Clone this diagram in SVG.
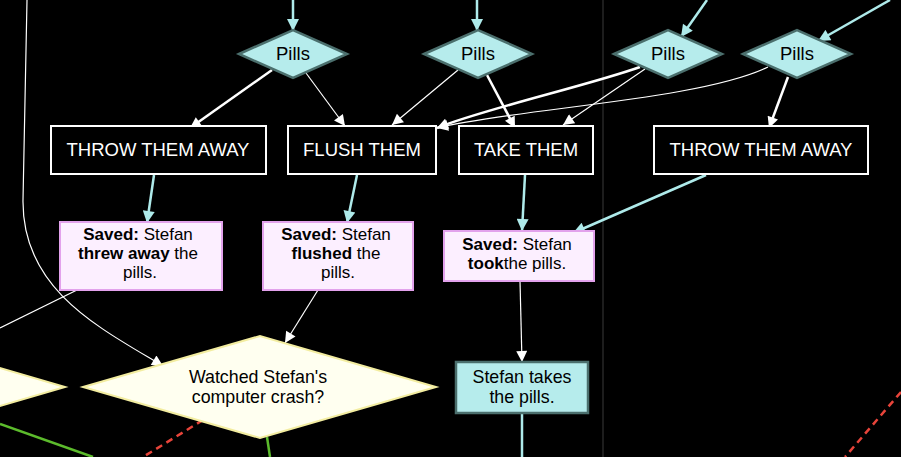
<svg xmlns="http://www.w3.org/2000/svg" width="901" height="457" viewBox="0 0 901 457">
<style>
text{font-family:"Liberation Sans",Arial,Helvetica,sans-serif;font-size:18.5px;text-anchor:middle}
.pill polygon{fill:#b6ecec;stroke:#4b6f6d;stroke-width:2.5}
.pill text{fill:#000}
.act rect{fill:#000;stroke:#fff;stroke-width:2}
.act text{fill:#fff}
.saved rect{fill:#fcefff;stroke:#e2a2ec;stroke-width:2}
.saved text{fill:#000;font-size:17px}
.b{font-weight:bold}
.q polygon{fill:#fffff0;stroke:#f3eda0;stroke-width:2}
.q text{fill:#000;font-size:17.8px}
.state rect{fill:#b6ecec;stroke:#4b6f6d;stroke-width:2.5}
.state text{fill:#000;font-size:17.8px}
.e{fill:none}
.wk{stroke:#fff;stroke-width:2.5}
.wt{stroke:#fff;stroke-width:1.2}
.cy{stroke:#aeeaea;stroke-width:2.5}
.gr{stroke:#5cbb2c;stroke-width:2.5}
.rd{stroke:#e8443a;stroke-width:2.5;stroke-dasharray:7 5}
</style>
<defs>
<marker id="aw" markerUnits="userSpaceOnUse" viewBox="0 0 10 10" refX="10" refY="5" markerWidth="14" markerHeight="11" orient="auto"><path d="M0,0 L10,5 L0,10 z" fill="#fff"/></marker>
<marker id="ac" markerUnits="userSpaceOnUse" viewBox="0 0 10 10" refX="10" refY="5" markerWidth="14" markerHeight="12" orient="auto"><path d="M0,0 L10,5 L0,10 z" fill="#aeeaea"/></marker>
</defs>
<rect x="0" y="0" width="901" height="457" fill="#000"/>
<line x1="603" y1="0" x2="603" y2="457" stroke="#3a3a3a" stroke-width="1"/>

<g id="connectors">
<line class="e cy" x1="293" y1="0" x2="293" y2="31" marker-end="url(#ac)"/>
<line class="e cy" x1="477" y1="0" x2="477" y2="31" marker-end="url(#ac)"/>
<line class="e cy" x1="707" y1="0" x2="681" y2="37" marker-end="url(#ac)"/>
<line class="e cy" x1="890" y1="0" x2="818" y2="41" marker-end="url(#ac)"/>
<line class="e wk" x1="272" y1="70" x2="190" y2="128" marker-end="url(#aw)"/>
<line class="e wt" x1="306" y1="73" x2="345" y2="126" marker-end="url(#aw)"/>
<line class="e wt" x1="458" y1="70" x2="392" y2="125" marker-end="url(#aw)"/>
<line class="e wk" x1="487" y1="75" x2="515" y2="128" marker-end="url(#aw)"/>
<path class="e wk" d="M640 67 C590 85 480 110 437 128" marker-end="url(#aw)"/>
<line class="e wt" x1="645" y1="69" x2="563" y2="125" marker-end="url(#aw)"/>
<path class="e wt" d="M768 67 C700 100 520 108 437 128" marker-end="url(#aw)"/>
<line class="e wk" x1="788" y1="77" x2="769" y2="128" marker-end="url(#aw)"/>
<line class="e cy" x1="154" y1="175" x2="147" y2="223" marker-end="url(#ac)"/>
<line class="e cy" x1="357" y1="175" x2="347" y2="223" marker-end="url(#ac)"/>
<line class="e cy" x1="525" y1="175" x2="522" y2="231" marker-end="url(#ac)"/>
<line class="e cy" x1="706" y1="175" x2="573" y2="233" marker-end="url(#ac)"/>
<line class="e wt" x1="520" y1="281" x2="522" y2="362" marker-end="url(#aw)"/>
<line class="e cy" x1="522" y1="413" x2="522" y2="457"/>
<line class="e wt" x1="318" y1="290" x2="285" y2="343" marker-end="url(#aw)"/>
<path class="e wt" d="M27 0 L23 200 C22 290 100 328 163 366" marker-end="url(#aw)"/>
<line class="e wt" x1="77" y1="290" x2="0" y2="328"/>
<line class="e gr" x1="0" y1="424" x2="93" y2="457"/>
<line class="e gr" x1="267" y1="437" x2="270" y2="457"/>
<line class="e rd" x1="203" y1="420" x2="143" y2="457"/>
<line class="e rd" x1="901" y1="392" x2="845" y2="457"/>
</g>

<g id="pills1" class="pill"><polygon points="239,54 293,30 347,54 293,78"/><text x="293" y="60">Pills</text></g>
<g id="pills2" class="pill"><polygon points="424,54 478,30 532,54 478,78"/><text x="478" y="60">Pills</text></g>
<g id="pills3" class="pill"><polygon points="614,54 668,30 722,54 668,78"/><text x="668" y="60">Pills</text></g>
<g id="pills4" class="pill"><polygon points="743,54 797,30 851,54 797,78"/><text x="797" y="60">Pills</text></g>

<g id="throw1" class="act"><rect x="51" y="126" width="215" height="48"/><text x="158" y="156">THROW THEM AWAY</text></g>
<g id="flush" class="act"><rect x="288" y="126" width="148" height="48"/><text x="362" y="156">FLUSH THEM</text></g>
<g id="take" class="act"><rect x="459" y="126" width="134" height="48"/><text x="526" y="156">TAKE THEM</text></g>
<g id="throw2" class="act"><rect x="654" y="126" width="214" height="48"/><text x="761" y="156">THROW THEM AWAY</text></g>

<g id="saved1" class="saved"><rect x="60" y="222" width="162" height="68"/>
<text x="138" y="240"><tspan class="b">Saved:</tspan> Stefan</text>
<text x="138" y="259"><tspan class="b">threw away</tspan> the</text>
<text x="140" y="278">pills.</text></g>
<g id="saved2" class="saved"><rect x="263" y="222" width="150" height="68"/>
<text x="336" y="240"><tspan class="b">Saved:</tspan> Stefan</text>
<text x="336" y="259"><tspan class="b">flushed</tspan> the</text>
<text x="338" y="278">pills.</text></g>
<g id="saved3" class="saved"><rect x="444" y="231" width="150" height="50"/>
<text x="517" y="250"><tspan class="b">Saved:</tspan> Stefan</text>
<text x="517" y="269"><tspan class="b">took</tspan>the pills.</text></g>

<g id="takes" class="state"><rect x="456" y="362" width="132" height="51"/>
<text x="522" y="383">Stefan takes</text><text x="522" y="403">the pills.</text></g>

<g id="watched" class="q"><polygon points="83,387 260,336 436,387 260,438"/>
<text x="258" y="383">Watched Stefan's</text><text x="258" y="403">computer crash?</text></g>
<g id="leftq" class="q"><polygon points="-290,387 -110,336 65,387 -110,438"/></g>
</svg>
